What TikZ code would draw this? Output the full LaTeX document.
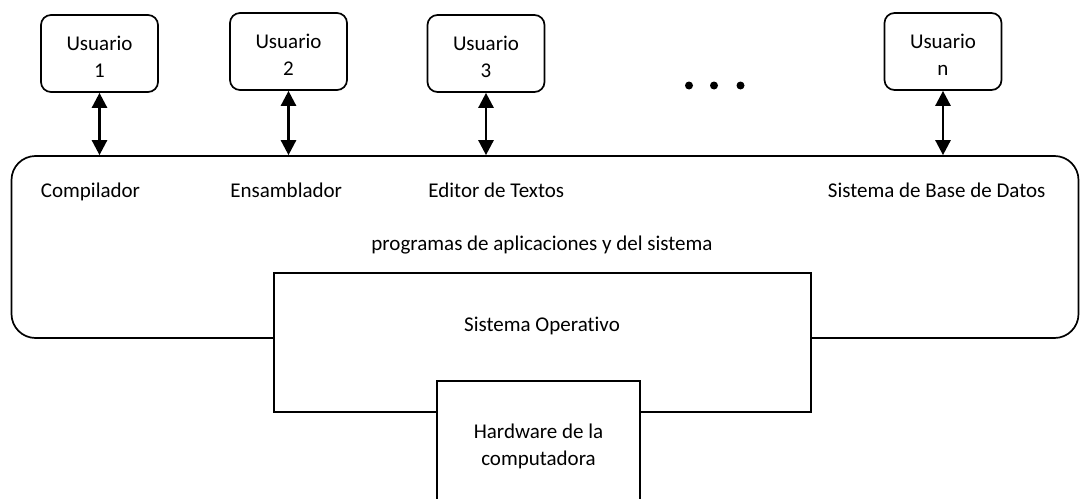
\documentclass[tikz,border=0pt]{standalone}
\usepackage{fontspec}
\setmainfont{Carlito}[Ligatures=NoCommon]
\usetikzlibrary{arrows.meta}
\begin{document}
\begin{tikzpicture}[x=0.5pt,y=-0.5pt,
  font=\fontsize{10.5pt}{13.5pt}\selectfont,
  userbox/.style={draw,line width=0.85pt,rounded corners=5pt,minimum width=58.5pt,minimum height=38.5pt,align=center,inner sep=0pt},
  plainbox/.style={draw,line width=0.85pt,fill=white,inner sep=0pt},
  dblarrow/.style={line width=1.3pt,{Triangle[length=7.5pt,width=7.5pt]}-{Triangle[length=7.5pt,width=7.5pt]}},
  lbl/.style={anchor=base west,inner sep=0pt},
  clbl/.style={anchor=base,inner sep=0pt,align=center},
  mlbl/.style={anchor=center,inner sep=0pt,align=center}]
\useasboundingbox (0,0) rectangle (1080,498);
% big rounded rectangle
\node[draw,line width=0.85pt,rounded corners=12pt,minimum width=533.5pt,minimum height=91pt,inner sep=0pt] (apps) at (545,247) {};
% users
\node[userbox] (u1) at (99.5,53.5) {};
\node[userbox] (u2) at (288.5,51.5) {};
\node[userbox] (u3) at (486,53.5) {};
\node[userbox] (un) at (943,51.5) {};
\node[mlbl] (t1) at (99.5,56.5) {Usuario\\1};
\node[mlbl] (t2) at (288.5,55) {Usuario\\2};
\node[mlbl] (t3) at (486,56.5) {Usuario\\3};
\node[mlbl] (tn) at (943,55) {Usuario\\n};
% arrows
\draw[dblarrow] (u1.south) -- (u1.south |- apps.north);
\draw[dblarrow] (u2.south) -- (u2.south |- apps.north);
\draw[dblarrow] (u3.south) -- (u3.south |- apps.north);
\draw[dblarrow] (un.south) -- (un.south |- apps.north);
% dots
\fill (689,85.5) circle (2pt) (714,85.5) circle (2pt) (740.5,85.5) circle (2pt);
% labels
\node[lbl] (comp) at (40.5,197) {Compilador};
\node[lbl] (ens) at (230,197) {Ensamblador};
\node[lbl] (edit) at (428,197) {Editor de Textos};
\node[lbl] (sbd) at (827.5,197) {Sistema de Base de Datos};
\node[clbl] (prog) at (542,250) {programas de aplicaciones y del sistema};
% operating system
\node[plainbox,minimum width=268.5pt,minimum height=69.5pt] (so) at (542.5,342.5) {};
\node[clbl] (solbl) at (542,331) {Sistema Operativo};
% hardware (extends below the picture)
\node[plainbox,minimum width=101.5pt,minimum height=70pt] (hw) at (538.5,451) {};
\node[mlbl] (hwlbl) at (538.5,446.5) {Hardware de la\\computadora};
\end{tikzpicture}
\end{document}
